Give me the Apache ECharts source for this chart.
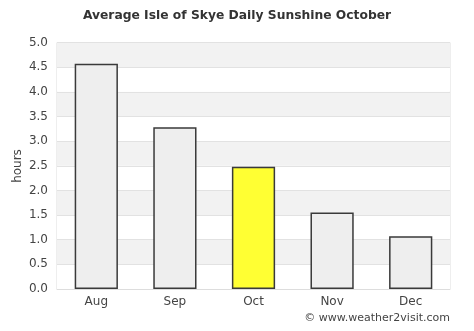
<!DOCTYPE html>
<html>
<head>
<meta charset="utf-8">
<script src="https://cdn.jsdelivr.net/npm/echarts@6/dist/echarts.min.js"></script>
<style>
  html, body { margin: 0; padding: 0; background: #fff; }
  #chart { width: 474px; height: 331px; }
</style>
</head>
<body>
<div id="chart"></div>
<script>
// Average daily sunshine hours, Isle of Skye, Aug–Dec
const months = ['Aug', 'Sep', 'Oct', 'Nov', 'Dec'];
const sunshineHours = [4.57, 3.28, 2.48, 1.55, 1.07];
const highlightMonth = 'Oct';
const yTicks = [0, 0.5, 1, 1.5, 2, 2.5, 3, 3.5, 4, 4.5, 5];
const yAxisTitle = 'hours';

const FONT = 'DejaVu Sans';

const chart = echarts.init(document.getElementById('chart'), null, { renderer: 'canvas' });

chart.setOption({
  animation: false,
  backgroundColor: '#ffffff',
  title: {
    text: 'Average Isle of Skye Daily Sunshine October',
    left: 'center',
    top: 5,
    textStyle: { fontFamily: FONT, fontSize: 12.3, fontWeight: 'bold', color: '#333333' }
  },
  grid: {
    left: 57, right: 24, top: 42.5, bottom: 42,
    outerBoundsMode: 'none',
    containLabel: false,
    show: true, borderColor: '#dddddd', borderWidth: 1, backgroundColor: 'transparent'
  },
  xAxis: {
    type: 'category',
    data: months,
    axisTick: { show: false },
    axisLine: { show: true, lineStyle: { color: '#dddddd' } },
    axisLabel: { fontFamily: FONT, fontSize: 12, color: '#444444', margin: 7 }
  },
  yAxis: {
    type: 'value',
    min: yTicks[0],
    max: yTicks[yTicks.length - 1],
    interval: 0.5,
    axisLine: { show: false },
    axisTick: { show: false },
    axisLabel: {
      fontFamily: FONT, fontSize: 12, color: '#444444', margin: 9,
      formatter: v => v.toFixed(1)
    },
    splitLine: { show: true, lineStyle: { color: '#e2e2e2', width: 1 } },
    splitArea: { show: true, areaStyle: { color: ['#ffffff', '#f2f2f2'] } }
  },
  graphic: [{
    // vertical axis title, rotated to read bottom-up
    type: 'text',
    x: 18,
    y: 166,
    rotation: Math.PI / 2,
    style: {
      text: yAxisTitle,
      fontFamily: FONT, fontSize: 12, fill: '#444444',
      align: 'center', verticalAlign: 'middle'
    }
  }, {
    type: 'text',
    right: 24,
    top: 313,
    style: {
      text: '© www.weather2visit.com',
      fontFamily: FONT, fontSize: 11, fill: '#444444'
    }
  }],
  series: [{
    type: 'bar',
    barWidth: '55%',
    data: sunshineHours.map((v, i) => ({
      value: v,
      itemStyle: { color: months[i] === highlightMonth ? '#ffff33' : '#eeeeee' }
    })),
    itemStyle: { borderColor: '#3a3a3a', borderWidth: 1.5 }
  }]
});
</script>
</body>
</html>
